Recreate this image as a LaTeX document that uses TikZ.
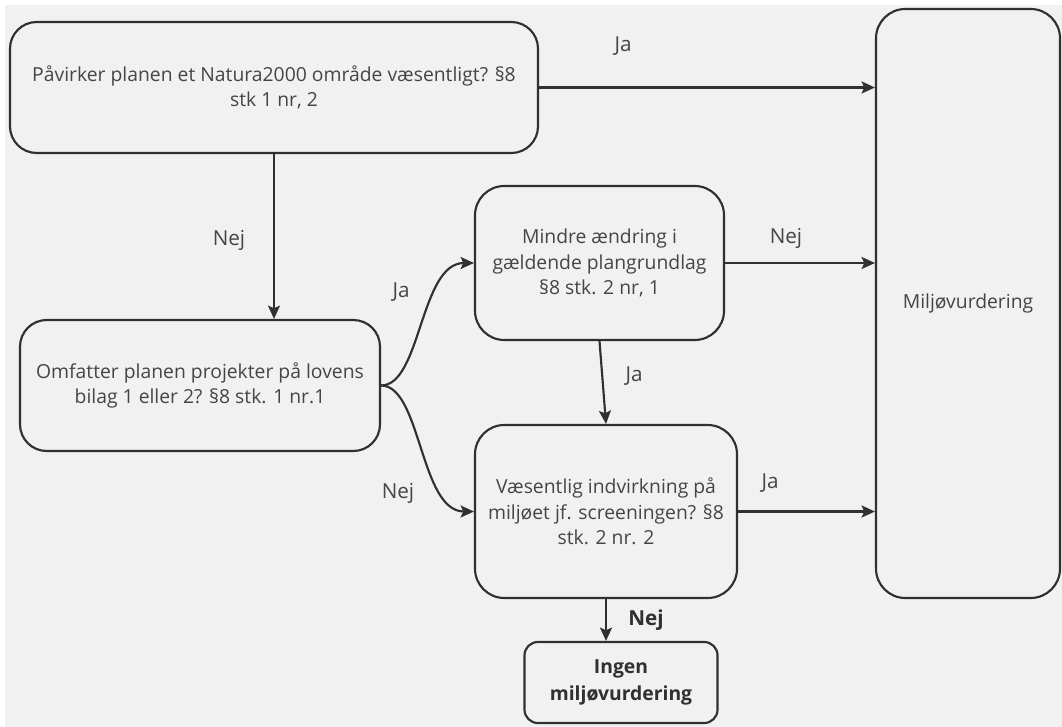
\documentclass[tikz,border=0pt]{standalone}
\usepackage{fontspec}
\setmainfont{Open Sans}
\usetikzlibrary{arrows.meta}
\newcommand\pxu{0.75pt}
\definecolor{bg}{HTML}{F1F1F1}
\definecolor{ln}{HTML}{303030}
\definecolor{tx}{HTML}{454545}
\tikzset{
  box/.style={draw=ln, line width=1.6pt, rounded corners=#1, fill=bg, text=tx, align=center, font=\fontsize{14.5}{19}\selectfont, inner sep=0pt},
  box/.default=20pt,
  conn/.style={draw=ln, line width=1.6pt, -{Stealth[length=10pt,width=9pt,inset=2pt]}},
  lab/.style={text=tx, font=\fontsize{15.5}{18}\selectfont, inner sep=0pt},
}
\begin{document}
\begin{tikzpicture}[x=\pxu, y=-\pxu]
\useasboundingbox (0,0) rectangle (1062,727);
\fill[white] (0,0) rectangle (1062,727);
\fill[bg] (5,5) rectangle (1062,727);

\node[box=20pt, minimum width={528*\pxu}, minimum height={131*\pxu}] (b1) at (274,87.5)
  {Påvirker planen et Natura2000 område væsentligt? §8\\stk 1 nr, 2};
\node[box=20pt, minimum width={360*\pxu}, minimum height={131*\pxu}] (b2) at (200,385.5)
  {Omfatter planen projekter på lovens\\bilag 1 eller 2? §8 stk. 1 nr.1};
\node[box=22pt, minimum width={249*\pxu}, minimum height={154*\pxu}] (b3) at (599.5,263)
  {Mindre ændring i\\gældende plangrundlag\\§8 stk. 2 nr, 1};
\node[box=22pt, minimum width={262*\pxu}, minimum height={173*\pxu}] (b4) at (606,511.5)
  {Væsentlig indvirkning på\\miljøet jf. screeningen? §8\\stk. 2 nr. 2};
\node[box=10pt, minimum width={193*\pxu}, minimum height={81*\pxu}, font=\fontsize{14.5}{20}\selectfont\bfseries, text=ln] (b5) at (621,682.5)
  {Ingen\\miljøvurdering};
\node[box=22pt, minimum width={184*\pxu}, minimum height={589*\pxu}] (b6) at (968,303.5)
  {Miljøvurdering};

\draw[conn] (b1.east) -- (b6.west |- b1.east);
\draw[conn] (b1.south) -- (b2.north -| b1.south);
\draw[conn] (b2.east) .. controls ++(40,0) and (420,263) .. (b3.west);
\draw[conn] (b2.east) .. controls ++(40,0) and (420,511.5) .. (b4.west);
\draw[conn] (b3.east) -- (b6.west |- b3.east);
\draw[conn] (b3.south) -- (b4.north);
\draw[conn] (b4.east) -- (b6.west |- b4.east);
\draw[conn] (b4.south) -- (b4.south |- b5.north);

\node[lab] (l1) at (623,46) {Ja};
\node[lab] (l2) at (229,240) {Nej};
\node[lab] (l3) at (401,292) {Ja};
\node[lab] (l4) at (398,493) {Nej};
\node[lab] (l5) at (786,238) {Nej};
\node[lab] (l6) at (634,376) {Ja};
\node[lab] (l7) at (770,483) {Ja};
\node[lab, font=\fontsize{15.5}{18}\selectfont\bfseries, text=ln] (l8) at (646,620) {Nej};
\end{tikzpicture}
\end{document}
